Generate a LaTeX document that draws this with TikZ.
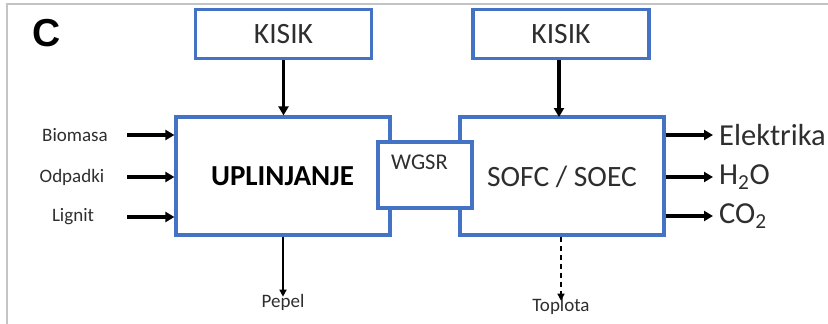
\documentclass[tikz,border=0pt]{standalone}
\usepackage{fontspec}
\setmainfont{Carlito}
\newfontfamily\labfont{Liberation Sans}
\usetikzlibrary{arrows.meta}
\definecolor{boxblue}{HTML}{4472C4}
\definecolor{txtgray}{HTML}{2E2E2E}
\definecolor{framegray}{HTML}{C4C4C4}
\tikzset{
  blk/.style={draw=boxblue, line width=3.2pt, fill=white, inner sep=0pt},
  heavy/.style={line width=3.2pt, -{Triangle[length=9pt,width=10pt]}},
  thin/.style={line width=1.5pt, -{Triangle[length=7pt,width=7pt]}},
  small/.style={font=\fontsize{19}{21}\selectfont, text=txtgray, inner sep=0pt},
  big/.style={font=\fontsize{29.5}{32}\selectfont, text=txtgray, inner sep=0pt},
}
\begin{document}
\begin{tikzpicture}[x=1pt,y=-1pt]
\useasboundingbox (0,0) rectangle (828,324);
% frame lines
\draw[framegray, line width=1.8pt] (7,324) -- (7,4) -- (828,4);
% panel label
\node[font=\labfont\bfseries\fontsize{39}{40}\selectfont, inner sep=0pt] (lbl) at (47,33) {C};
% boxes
\node[blk, minimum width=176pt, minimum height=49pt] (k1) at (283.5,34) {};
\node[big] at (k1) {KISIK};
\node[blk, minimum width=176pt, minimum height=49pt] (k2) at (561,34) {};
\node[big] at (k2) {KISIK};
\node[blk, minimum width=214pt, minimum height=118pt] (up) at (283,176) {};
\node[big, font=\bfseries\fontsize{29}{32}\selectfont, text=black] at (282.5,176) {UPLINJANJE};
\node[blk, minimum width=204pt, minimum height=118pt] (so) at (562,176) {};
\node[big] at (562,177) {SOFC / SOEC};
\node[blk, minimum width=94pt, minimum height=66pt] (wg) at (425,175) {};
\node[small, font=\fontsize{22.5}{24}\selectfont] at (419.5,162) {WGSR};
% KISIK arrows
\draw[heavy] (k1.south) -- (k1.south |- up.north);
\draw[heavy] (k2.south -| 559,0) -- (559,117);
% inputs
\node[small, anchor=center] (bio) at (75,135) {Biomasa};
\node[small, anchor=center] (odp) at (72,177) {Odpadki};
\node[small, anchor=center] (lig) at (73,217) {Lignit};
\coordinate (bi) at (127,135);
\coordinate (oi) at (127,177);
\coordinate (li) at (127,217);
\draw[heavy] (bi) -- (bi -| up.west);
\draw[heavy] (oi) -- (oi -| up.west);
\draw[heavy] (li) -- (li -| up.west);
% outputs
\node[big, anchor=west, font=\fontsize{30.5}{32}\selectfont] (el) at (719,135) {Elektrika};
\node[big, anchor=west, font=\fontsize{30.5}{32}\selectfont] (h2o) at (719,177) {H\textsubscript{2}O};
\node[big, anchor=west, font=\fontsize{30.5}{32}\selectfont] (co2) at (719,216) {CO\textsubscript{2}};
\draw[heavy] (so.east |- el.west) -- ([xshift=-6pt]el.west);
\draw[heavy] (so.east |- h2o.west) -- ([xshift=-6pt]h2o.west);
\draw[heavy] (so.east |- co2.west) -- ([xshift=-6pt]co2.west);
% bottom outputs
\node[small] (pep) at (283,302) {Pepel};
\node[small] (top) at (561,306) {Toplota};
\draw[thin] (up.south) -- ([yshift=-3pt]pep.north);
\draw[thin, dashed, dash pattern=on 5pt off 4pt] (top.north |- so.south) -- ([yshift=-3pt]top.north);
\end{tikzpicture}
\end{document}
